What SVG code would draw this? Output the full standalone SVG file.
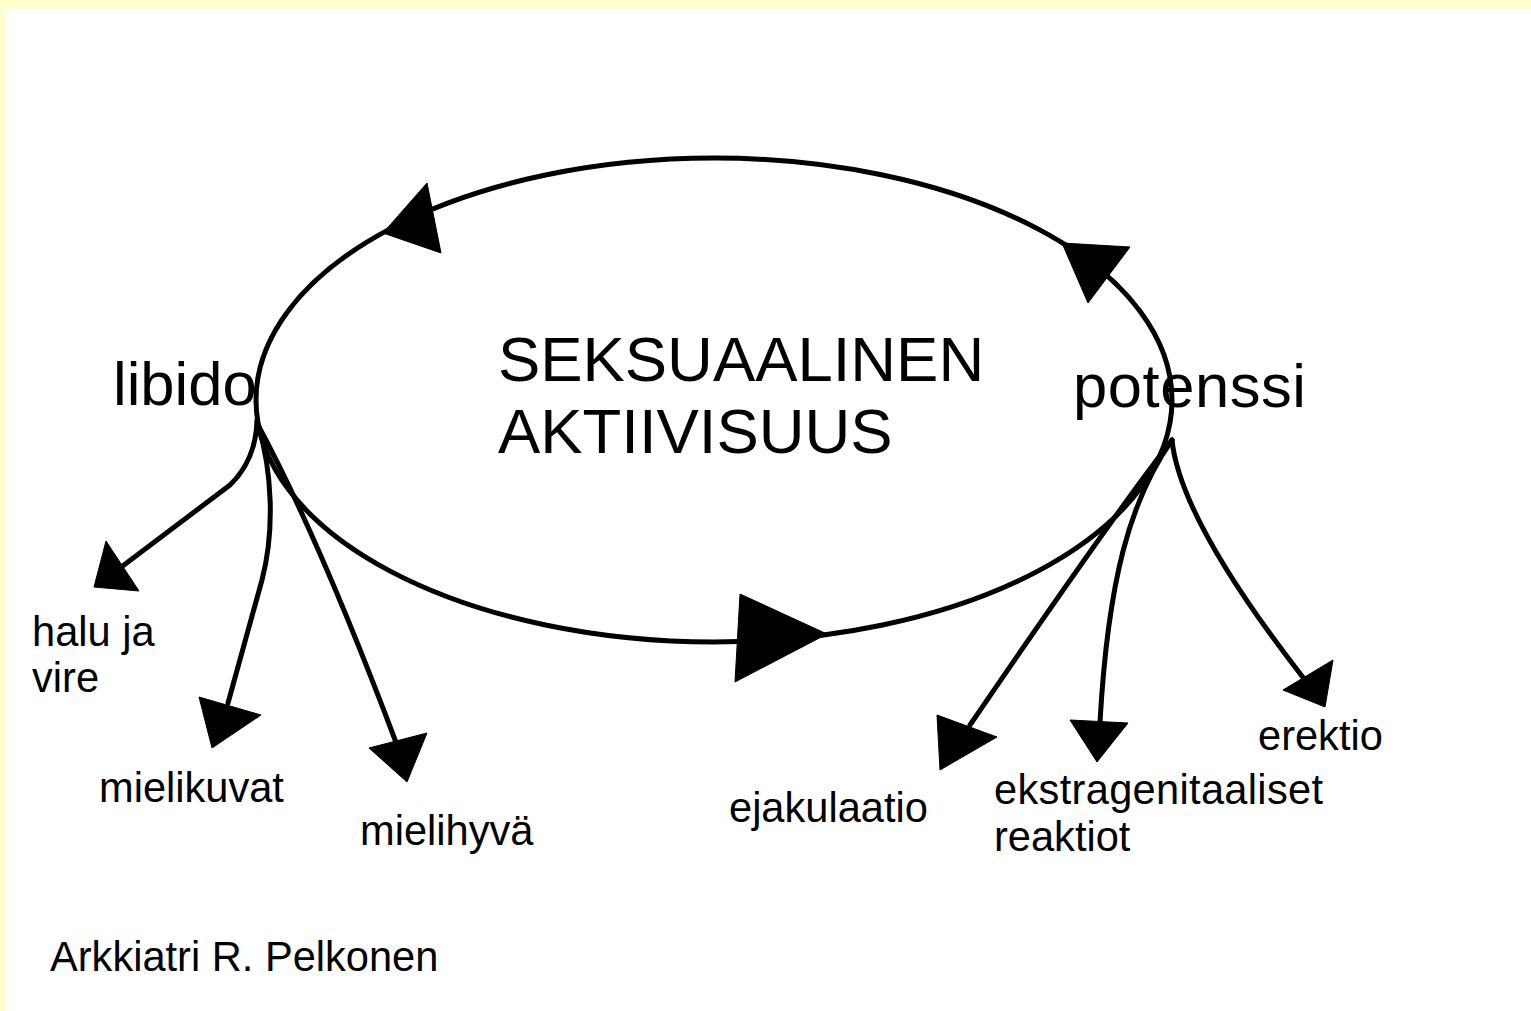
<svg xmlns="http://www.w3.org/2000/svg" width="1531" height="1011" viewBox="0 0 1531 1011">
<style>
.ln{fill:none;stroke:#000;stroke-width:5;stroke-linecap:round;stroke-linejoin:round}
.ah{fill:#000;stroke:#000;stroke-width:1}
.t{font-family:"Liberation Sans",Arial,sans-serif;fill:#000}
.big{font-size:63.4px}
.mid{font-size:61.5px}
.sm{font-size:41.6px}
</style>
<rect x="0" y="0" width="1531" height="1011" fill="#fff"/>
<rect x="0" y="0" width="1531" height="9" fill="#ffffcc"/>
<rect x="0" y="0" width="5" height="1011" fill="#ffffcc"/>
<g id="connectors">
<ellipse class="ln" cx="714" cy="400" rx="458" ry="242"/>
<polygon class="ah" points="383,233 427,183 441,253"/>
<polygon class="ah" points="1062,243 1130,247 1088,303"/>
<polygon class="ah" points="740,594 735,682 827,634"/>
<path class="ln" d="M257 420 Q256 460 230 485 L120 568"/>
<polygon class="ah" points="106,541 94,587 139,591"/>
<path class="ln" d="M258 425 C272 470 275 530 262 580 L228 703"/>
<polygon class="ah" points="199,697 261,715 212,748"/>
<path class="ln" d="M258 425 Q320 540 397 745"/>
<polygon class="ah" points="369,748 427,733 407,782"/>
<path class="ln" d="M1172 440 Q1110 520 970 725"/>
<polygon class="ah" points="937,715 997,737 940,770"/>
<path class="ln" d="M1172 440 C1130 500 1108 580 1100 722"/>
<polygon class="ah" points="1070,720 1128,723 1097,762"/>
<path class="ln" d="M1172 440 Q1180 520 1305 680"/>
<polygon class="ah" points="1333,660 1283,690 1325,707"/>
</g>
<g id="center"><text class="t big" x="498" y="381">SEKSUAALINEN</text><text class="t big" x="498" y="453">AKTIIVISUUS</text></g>
<g id="libido"><text class="t mid" x="113" y="405">libido</text></g>
<g id="potenssi"><text class="t mid" x="1073" y="407" textLength="233">potenssi</text></g>
<g id="halu"><text class="t sm" x="32" y="646">halu ja</text><text class="t sm" x="32" y="692">vire</text></g>
<g id="mielikuvat"><text class="t sm" x="99" y="802">mielikuvat</text></g>
<g id="mielihyva"><text class="t sm" x="360" y="845">mielihyvä</text></g>
<g id="ejakulaatio"><text class="t sm" x="729" y="822">ejakulaatio</text></g>
<g id="ekstra"><text class="t sm" x="994" y="804" textLength="329">ekstragenitaaliset</text><text class="t sm" x="994" y="851">reaktiot</text></g>
<g id="erektio"><text class="t sm" x="1258" y="750">erektio</text></g>
<g id="author"><text class="t sm" x="50" y="971">Arkkiatri R. Pelkonen</text></g>
</svg>
